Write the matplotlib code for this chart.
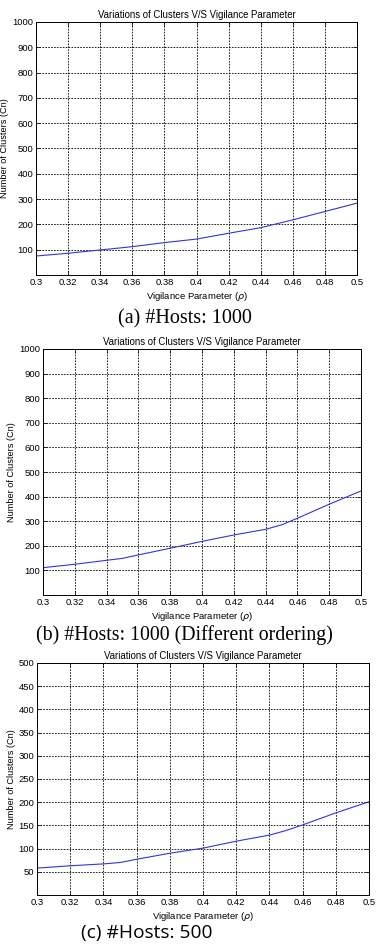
import matplotlib
matplotlib.use("Agg")
import matplotlib.pyplot as plt

plt.rcParams['font.family'] = ['Liberation Sans', 'DejaVu Sans']
plt.rcParams['mathtext.fontset'] = 'dejavusans'

title = "Variations of Clusters V/S Vigilance Parameter"
xlab = r"Vigilance Parameter ($\rho$)"
ylab = "Number of Clusters (Cn)"

# panel (a)
rho_a = [0.30, 0.32, 0.34, 0.36, 0.38, 0.40, 0.42, 0.44, 0.46, 0.48, 0.50]
cn_a = [75, 86, 99, 112, 128, 142, 165, 187, 218, 251, 284]

# panel (b)
rho_b = [0.30, 0.32, 0.33, 0.35, 0.36, 0.38, 0.40, 0.42, 0.44, 0.45, 0.46, 0.48, 0.50]
cn_b = [111, 125, 133, 149, 163, 190, 218, 244, 267, 285, 312, 369, 423]

# panel (c)
rho_c = [0.30, 0.32, 0.34, 0.35, 0.36, 0.38, 0.40, 0.42, 0.44, 0.45, 0.46, 0.48, 0.50]
cn_c = [58, 63, 67, 70, 77, 90, 101, 116, 129, 139, 151, 177, 201]

xticks = [0.3, 0.32, 0.34, 0.36, 0.38, 0.4, 0.42, 0.44, 0.46, 0.48, 0.5]
xticklabels = ['0.3', '0.32', '0.34', '0.36', '0.38', '0.4', '0.42', '0.44', '0.46', '0.48', '0.5']

W, H = 376, 950
fig = plt.figure(figsize=(W / 100, H / 100), dpi=100)


def panel(box, x, y, ymax, ystep):
    l, t, r, b = box
    ax = fig.add_axes([l / W, 1 - b / H, (r - l) / W, (b - t) / H])
    ax.plot(x, y, color='#3535d5', lw=0.8)
    ax.set_xlim(0.3, 0.5)
    ax.set_ylim(0, ymax)
    ax.set_xticks(xticks)
    ax.set_xticklabels(xticklabels)
    ax.set_yticks(list(range(ystep, ymax + 1, ystep)))
    ax.tick_params(labelsize=6.8, direction='in', length=3, width=0.5,
                   top=True, right=True, pad=2)
    ax.grid(True, color='black', linestyle=(0, (2, 1.5)), lw=0.6)
    for s in ax.spines.values():
        s.set_linewidth(0.7)
    ax.set_title(title, fontsize=6.9, pad=3)
    ax.set_xlabel(xlab, fontsize=6.8, labelpad=2)
    ax.set_ylabel(ylab, fontsize=6.6, labelpad=2)
    return ax


panel((36, 22, 357, 275), rho_a, cn_a, 1000, 100)
panel((43, 349, 361, 595), rho_b, cn_b, 1000, 100)
panel((37, 663, 369, 895), rho_c, cn_c, 500, 50)

fig.text(185 / W, 1 - 319 / H, "(a) #Hosts: 1000", ha='center', va='center',
         fontsize=14.5, family=['Liberation Serif', 'DejaVu Serif'])
fig.text(184 / W, 1 - 635 / H, "(b) #Hosts: 1000 (Different ordering)", ha='center',
         va='center', fontsize=14.3, family=['Liberation Serif', 'DejaVu Serif'])
fig.text(147 / W, 1 - 933 / H, "(c) #Hosts: 500", ha='center', va='center',
         fontsize=13.8, family=['Open Sans', 'DejaVu Sans'])

fig.savefig("out.png", dpi=100)
